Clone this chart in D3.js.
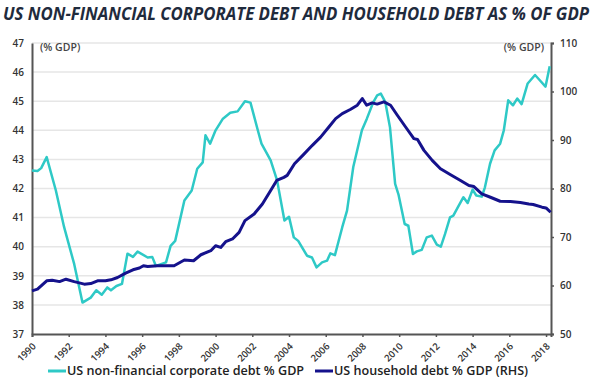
<!DOCTYPE html>
<html>
<head>
<meta charset="utf-8">
<script src="https://cdn.jsdelivr.net/npm/d3@7"></script>
<style>
body { margin: 0; background: #fff; }
text { font-family: "Open Sans", "DejaVu Sans", sans-serif; }
</style>
</head>
<body>
<div id="chart"></div>
<script>
// corporate debt, % GDP (left axis)
var corpDates = [1990.0, 1990.3, 1990.5, 1990.8, 1991.3, 1991.75, 1992.3, 1992.75, 1993.2, 1993.5, 1993.8, 1994.1, 1994.3, 1994.6, 1994.9,
	1995.2, 1995.5, 1995.75, 1996.3, 1996.55, 1996.75, 1997.3, 1997.55, 1997.8, 1998.3, 1998.7, 1999.0, 1999.3, 1999.45, 1999.7,
	2000.0, 2000.4, 2000.8, 2001.2, 2001.6, 2001.9, 2002.3, 2002.5, 2003.0, 2003.35, 2003.75, 2004.0, 2004.26, 2004.5, 2004.98,
	2005.25, 2005.5, 2005.8, 2006.07, 2006.25, 2006.5, 2006.9, 2007.16, 2007.5, 2007.97, 2008.24, 2008.6, 2008.8, 2009.0, 2009.24,
	2009.5, 2009.78, 2009.96, 2010.3, 2010.5, 2010.75, 2010.96, 2011.23, 2011.5, 2011.78, 2012.05, 2012.27, 2012.5, 2012.77, 2012.95,
	2013.2, 2013.5, 2013.73, 2014.0, 2014.2, 2014.5, 2014.67, 2014.95, 2015.2, 2015.5, 2015.7, 2015.94, 2016.2, 2016.43, 2016.67,
	2017.0, 2017.4, 2017.66, 2017.97, 2018.2];
var corpDebt = [42.62, 42.6, 42.7, 43.08, 41.93, 40.67, 39.4, 38.08, 38.25, 38.5, 38.35, 38.6, 38.5, 38.65, 38.72,
	39.76, 39.65, 39.83, 39.63, 39.65, 39.34, 39.46, 40.03, 40.2, 41.59, 41.93, 42.68, 42.9, 43.83, 43.54,
	44.0, 44.4, 44.6, 44.65, 45.0, 44.95, 44.0, 43.54, 42.97, 42.28, 40.9, 41.03, 40.32, 40.2, 39.69,
	39.63, 39.29, 39.46, 39.52, 39.77, 39.71, 40.67, 41.24, 42.74, 44.0, 44.4, 44.98, 45.2, 45.26, 44.98,
	44.1, 42.16, 41.8, 40.78, 40.72, 39.75, 39.84, 39.89, 40.32, 40.38, 40.07, 40.0, 40.44, 41.01, 41.07,
	41.36, 41.7, 41.5, 41.96, 41.76, 41.72, 42.04, 42.85, 43.31, 43.54, 44.0, 45.03, 44.86, 45.09, 44.9,
	45.61, 45.9, 45.72, 45.5, 46.2];

// household debt, % GDP (right axis)
var houseDates = [1990.0, 1990.3, 1990.8, 1991.1, 1991.5, 1991.85, 1992.3, 1992.85, 1993.2, 1993.57, 1994.0, 1994.3, 1994.66, 1995.1, 1995.5,
	1995.85, 1996.07, 1996.3, 1996.84, 1997.74, 1998.3, 1998.8, 1999.2, 1999.74, 2000.0, 2000.28, 2000.55, 2000.92, 2001.28, 2001.6,
	2002.1, 2002.55, 2003.0, 2003.33, 2003.72, 2003.9, 2004.3, 2004.8, 2005.27, 2005.72, 2006.17, 2006.54, 2006.9, 2007.36, 2007.72,
	2007.99, 2008.23, 2008.53, 2008.8, 2009.17, 2009.53, 2009.9, 2010.35, 2010.8, 2011.0, 2011.35, 2011.8, 2012.25, 2012.8, 2013.34,
	2013.8, 2014.07, 2014.5, 2014.97, 2015.5, 2016.06, 2016.6, 2017.06, 2017.3, 2017.78, 2018.0, 2018.25];
var houseDebt = [58.9, 59.24, 60.96, 61.1, 60.8, 61.3, 60.8, 60.28, 60.4, 60.96, 60.96, 61.17, 61.65, 62.55, 63.24,
	63.6, 64.07, 63.9, 64.07, 64.07, 65.25, 65.1, 66.34, 67.17, 68.2, 67.85, 69.03, 69.6, 70.96, 73.38,
	74.76, 76.8, 79.6, 81.66, 82.3, 82.7, 85.1, 87.03, 88.9, 90.6, 92.68, 94.4, 95.45, 96.34, 97.17,
	98.55, 97.17, 97.65, 97.4, 97.86, 97.17, 95.1, 92.68, 90.28, 90.1, 87.86, 85.8, 84.07, 82.83, 81.66,
	80.6, 80.4, 78.9, 78.2, 77.37, 77.3, 77.1, 76.8, 76.7, 76.15, 76.0, 75.1];

var yearTicks = [1990, 1992, 1994, 1996, 1998, 2000, 2002, 2004, 2006, 2008, 2010, 2012, 2014, 2016, 2018];
var leftTicks = [37, 38, 39, 40, 41, 42, 43, 44, 45, 46, 47];
var rightTicks = [50, 60, 70, 80, 90, 100, 110];

var corpColor = "#2ec9c6",
	houseColor = "#15128c";

var width = 600, height = 385;
var margin = { top: 43, right: 49, bottom: 51, left: 32 };

var svg = d3.select("#chart").append("svg")
	.attr("width", width)
	.attr("height", height);

// title
svg.append("text")
	.attr("x", 3)
	.attr("y", 20)
	.attr("textLength", 586)
	.attr("lengthAdjust", "spacingAndGlyphs")
	.style("font-size", "17px")
	.style("font-style", "italic")
	.style("font-weight", "700")
	.style("fill", "#1f2b3d")
	.text("US NON-FINANCIAL CORPORATE DEBT AND HOUSEHOLD DEBT AS % OF GDP");

var x = d3.scaleLinear()
	.domain([1990, 2018.27])
	.range([margin.left, width - margin.right]);
var yL = d3.scaleLinear()
	.domain([37, 47])
	.range([height - margin.bottom, margin.top]);
var yR = d3.scaleLinear()
	.domain([50, 110])
	.range([height - margin.bottom, margin.top]);

// gridlines
svg.append("g").selectAll("line")
	.data(leftTicks.slice(1))
	.enter().append("line")
	.attr("x1", margin.left)
	.attr("x2", width - margin.right)
	.attr("y1", function (d) { return yL(d); })
	.attr("y2", function (d) { return yL(d); })
	.style("stroke", "#e6e6e6")
	.style("stroke-width", 1.5);

// left axis
var gl = svg.append("g")
	.attr("transform", "translate(" + margin.left + ",0)")
	.call(d3.axisLeft(yL).tickValues(leftTicks).tickSize(0).tickPadding(8).tickFormat(d3.format("d")));

// right axis
var gr = svg.append("g")
	.attr("transform", "translate(" + (width - margin.right) + ",0)")
	.call(d3.axisRight(yR).tickValues(rightTicks).tickSize(3).tickPadding(6).tickFormat(d3.format("d")));

// bottom axis
var gb = svg.append("g")
	.attr("transform", "translate(0," + (height - margin.bottom) + ")")
	.call(d3.axisBottom(x).tickValues(yearTicks).tickSize(3).tickFormat(d3.format("d")));

gb.selectAll("text")
	.attr("text-anchor", "end")
	.attr("x", 0)
	.attr("y", 0)
	.attr("dy", 0)
	.attr("transform", "translate(4,13) rotate(-45)");

[gl, gr, gb].forEach(function (g) {
	g.select(".domain").style("stroke", "#555").style("stroke-width", 2);
	g.selectAll(".tick line").style("stroke", "#555").style("stroke-width", 1.5);
	g.selectAll("text")
		.style("font-size", "10px")
		.style("font-weight", "600")
		.style("fill", "#333");
});
gb.selectAll("text").style("font-size", "9.5px");

// unit labels
svg.append("text")
	.attr("x", 40).attr("y", 51)
	.style("font-size", "10.5px").style("font-weight", "600").style("fill", "#444")
	.text("(% GDP)");
svg.append("text")
	.attr("x", 544).attr("y", 51)
	.attr("text-anchor", "end")
	.style("font-size", "10.5px").style("font-weight", "600").style("fill", "#444")
	.text("(% GDP)");

var corpLine = d3.line()
	.x(function (d, i) { return x(corpDates[i]); })
	.y(function (d) { return yL(d); });
var houseLine = d3.line()
	.x(function (d, i) { return x(houseDates[i]); })
	.y(function (d) { return yR(d); });

svg.append("path")
	.datum(corpDebt)
	.attr("d", corpLine)
	.style("fill", "none")
	.style("stroke", corpColor)
	.style("stroke-width", 2.5)
	.style("stroke-linejoin", "round");

svg.append("path")
	.datum(houseDebt)
	.attr("d", houseLine)
	.style("fill", "none")
	.style("stroke", houseColor)
	.style("stroke-width", 3)
	.style("stroke-linejoin", "round");

// legend
var legend = [
	{ label: "US non-financial corporate debt % GDP", color: corpColor, x: 48 },
	{ label: "US household debt % GDP (RHS)", color: houseColor, x: 315 }
];
var lg = svg.append("g").selectAll("g")
	.data(legend)
	.enter().append("g")
	.attr("transform", function (d) { return "translate(" + d.x + ",375)"; });
lg.append("line")
	.attr("x1", 0).attr("x2", 18)
	.attr("y1", -4).attr("y2", -4)
	.style("stroke", function (d) { return d.color; })
	.style("stroke-width", 3);
lg.append("text")
	.attr("x", 19)
	.style("font-size", "12.6px")
	.style("font-weight", "600")
	.style("fill", "#222")
	.text(function (d) { return d.label; });
</script>
</body>
</html>
